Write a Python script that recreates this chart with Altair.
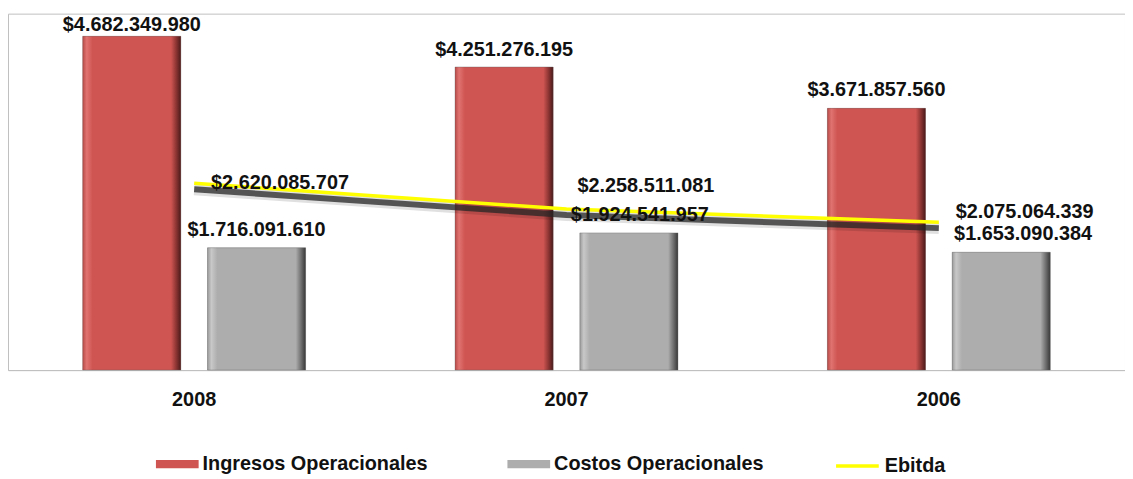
import altair as alt
import pandas as pd

years = ["2008", "2007", "2006"]
ingresos = [4682349980, 4251276195, 3671857560]
costos = [1716091610, 1924541957, 1653090384]
ebitda = [2620085707, 2258511081, 2075064339]
series_bars = ["Ingresos Operacionales", "Costos Operacionales"]
series_line = ["Ebitda"]


def fmt(v):
    return "$" + f"{v:,}".replace(",", ".")


bars_df = pd.DataFrame({
    "year": years * 2,
    "series": [series_bars[0]] * 3 + [series_bars[1]] * 3,
    "value": ingresos + costos,
})
bars_df["label"] = bars_df["value"].map(fmt)

line_df = pd.DataFrame({"year": years, "lseries": series_line * 3, "value": ebitda})
line_df["label"] = line_df["value"].map(fmt)

FONT = "Liberation Sans"
TXT = "#111111"

x = alt.X("year:N", sort=years,
          scale=alt.Scale(paddingInner=0, paddingOuter=0),
          axis=alt.Axis(title=None, labelFont=FONT, labelFontSize=20, labelFontWeight="bold",
                        labelColor=TXT, ticks=False, domainColor="#bfbfbf", labelPadding=20,
                        labelAngle=0))
y = alt.Y("value:Q", scale=alt.Scale(domain=[0, 5e9], nice=False, zero=True), axis=None)
xoff = alt.XOffset("series:N", sort=series_bars,
                   scale=alt.Scale(domain=series_bars, paddingInner=0.214, paddingOuter=0.599))

legend_common = dict(title=None, orient="none", direction="horizontal", labelFont=FONT,
                     labelFontSize=20, labelFontWeight="bold", labelColor=TXT, padding=0,
                     labelOffset=4, symbolSize=1849, labelLimit=0)

base_bars = alt.Chart(bars_df).mark_bar().encode(
    x=x, y=y, xOffset=xoff,
    fill=alt.Fill("series:N", sort=series_bars,
                  scale=alt.Scale(domain=series_bars, range=["#CF5552", "#ADADAD"]),
                  legend=alt.Legend(symbolType="M-1,-0.19H1V0.19H-1Z", symbolStrokeWidth=0,
                                    columnPadding=80, legendX=149, legendY=432, **legend_common)),
)

grad_stops = {
    series_bars[0]: ["#b84a47", "#e07370", "#CF5552", "#CF5552", "#8a3432", "#4a1a19"],
    series_bars[1]: ["#9a9a9a", "#c8c8c8", "#ADADAD", "#ADADAD", "#6e6e6e", "#383838"],
}
offsets = [0, 0.04, 0.1, 0.9, 0.955, 1]

layers = [base_bars]
for s in series_bars:
    g = alt.Gradient(gradient="linear", x1=0, x2=1, y1=0, y2=0,
                     stops=[alt.GradientStop(offset=o, color=c) for o, c in zip(offsets, grad_stops[s])])
    layers.append(
        alt.Chart(bars_df).transform_filter(alt.datum.series == s)
        .mark_bar(fill=g, stroke="#5a5a5a", strokeWidth=0.6, strokeOpacity=0.6)
        .encode(x=x, y=y, xOffset=xoff)
    )

# Ebitda shadow + line
layers.append(alt.Chart(line_df).mark_line(color="#000000", strokeWidth=12, opacity=0.12, yOffset=6)
              .encode(x=x, y=y))
layers.append(alt.Chart(line_df).mark_line(color="#262626", strokeWidth=6, opacity=0.75, yOffset=6)
              .encode(x=x, y=y))
layers.append(
    alt.Chart(line_df).mark_line(strokeWidth=3.5).encode(
        x=x, y=y,
        stroke=alt.Stroke("lseries:N", scale=alt.Scale(domain=series_line, range=["#FFFF00"]),
                          legend=alt.Legend(symbolType="stroke", symbolStrokeWidth=3.5,
                                            legendX=832, legendY=432, **legend_common)),
    )
)

# Bar value labels
ing_dy = {"2008": -5, "2007": -11, "2006": -12}
cos_dx = {"2008": 0, "2007": 11, "2006": 22}
for yr in years:
    layers.append(
        alt.Chart(bars_df).transform_filter((alt.datum.series == series_bars[0]) & (alt.datum.year == yr))
        .mark_text(font=FONT, fontSize=20, fontWeight="bold", color=TXT, baseline="alphabetic",
                   dy=ing_dy[yr])
        .encode(x=x, y=y, xOffset=xoff, text="label:N")
    )
    layers.append(
        alt.Chart(bars_df).transform_filter((alt.datum.series == series_bars[1]) & (alt.datum.year == yr))
        .mark_text(font=FONT, fontSize=20, fontWeight="bold", color=TXT, baseline="alphabetic",
                   dy=-12, dx=cos_dx[yr])
        .encode(x=x, y=y, xOffset=xoff, text="label:N")
    )

# Ebitda labels
eb_off = {"2008": (17, 0), "2007": (11, -23), "2006": (17, -10)}
for yr in years:
    dx, dy = eb_off[yr]
    layers.append(
        alt.Chart(line_df).transform_filter(alt.datum.year == yr)
        .mark_text(font=FONT, fontSize=20, fontWeight="bold", color=TXT, baseline="middle",
                   align="left", dx=dx, dy=dy)
        .encode(x=x, y=y, text="label:N")
    )

chart = alt.layer(*layers).resolve_scale(fill="independent").properties(
    width=1125, height=359,
    padding={"left": 0, "top": 4, "right": 0, "bottom": 106},
    autosize=alt.AutoSizeParams(type="none"),
    background="#ffffff",
).configure_view(stroke="#c0c0c0", strokeWidth=1)

chart.save("out.html", embed_options={"renderer": "svg", "actions": False})
